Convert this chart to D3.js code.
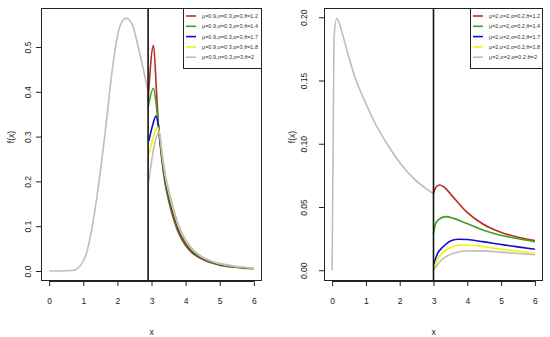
<!DOCTYPE html>
<html>
<head>
<meta charset="utf-8">
<script src="https://cdn.jsdelivr.net/npm/d3@7"></script>
<style>
  body { margin: 0; background: #fff; }
  svg { font-family: "Liberation Sans", Arial, sans-serif; }
</style>
</head>
<body>
<svg id="chart" width="550" height="337"></svg>
<script>
// ---- data ----
const xTicks = [0, 1, 2, 3, 4, 5, 6];
const colors = ['#b5301e', '#3c9e22', '#1010c8', '#f2f20a', '#bdbdbd'];

// left panel: mu=0.9, sigma=0.3, alpha=3
const leftTicks = [0, 0.1, 0.2, 0.3, 0.4, 0.5];
const leftThreshold = 2.9;
const leftLegend = ['μ=0.9,σ=0.3,α=3,θ=1.2', 'μ=0.9,σ=0.3,α=3,θ=1.4', 'μ=0.9,σ=0.3,α=3,θ=1.7', 'μ=0.9,σ=0.3,α=3,θ=1.8', 'μ=0.9,σ=0.3,α=3,θ=2'];
const leftBase = [[0, 0], [0.3, 0], [0.69, 0.001], [0.89, 0.01], [1.08, 0.036], [1.28, 0.107], [1.48, 0.21], [1.68, 0.335],
  [1.87, 0.461], [2.07, 0.545], [2.25, 0.564], [2.42, 0.553], [2.61, 0.5], [2.9, 0.40]];
const leftRed = [[2.9, 0.38], [3.06, 0.504], [3.14, 0.41], [3.2, 0.33], [3.3, 0.25], [3.4, 0.195], [3.5, 0.158], [3.6, 0.128],
  [3.7, 0.104], [3.8, 0.084], [4.0, 0.057], [4.2, 0.040], [4.5, 0.026], [5.0, 0.013], [5.5, 0.008], [6.0, 0.005]];
const leftGreen = [[2.9, 0.365], [3.06, 0.408], [3.14, 0.37], [3.2, 0.325], [3.3, 0.255], [3.4, 0.2], [3.5, 0.164], [3.6, 0.134],
  [3.7, 0.11], [3.8, 0.089], [4.0, 0.061], [4.2, 0.043], [4.5, 0.028], [5.0, 0.014], [5.5, 0.0085], [6.0, 0.0055]];
const leftBlue = [[2.92, 0.29], [3.05, 0.33], [3.13, 0.346], [3.2, 0.325], [3.3, 0.26], [3.4, 0.205], [3.5, 0.17], [3.6, 0.14],
  [3.7, 0.115], [3.8, 0.093], [4.0, 0.064], [4.2, 0.045], [4.5, 0.029], [5.0, 0.015], [5.5, 0.009], [6.0, 0.006]];
const leftYellow = [[2.92, 0.26], [3.08, 0.305], [3.18, 0.322], [3.25, 0.3], [3.3, 0.265], [3.4, 0.212], [3.5, 0.176], [3.6, 0.146],
  [3.7, 0.12], [3.8, 0.097], [4.0, 0.067], [4.2, 0.047], [4.5, 0.030], [5.0, 0.016], [5.5, 0.0095], [6.0, 0.0063]];
const leftGray = [[2.92, 0.2], [3.08, 0.28], [3.2, 0.308], [3.26, 0.298], [3.3, 0.27], [3.4, 0.218], [3.5, 0.182], [3.6, 0.152],
  [3.7, 0.125], [3.8, 0.101], [4.0, 0.070], [4.2, 0.049], [4.5, 0.031], [5.0, 0.017], [5.5, 0.010], [6.0, 0.0066]];

// right panel: mu=2, sigma=2, alpha=0.2
const rightTicks = [0, 0.05, 0.1, 0.15, 0.2];
const rightThreshold = 3.0;
const rightLegend = ['μ=2,σ=2,α=0.2,θ=1.2', 'μ=2,σ=2,α=0.2,θ=1.4', 'μ=2,σ=2,α=0.2,θ=1.7', 'μ=2,σ=2,α=0.2,θ=1.8', 'μ=2,σ=2,α=0.2,θ=2'];
const rightBase = [[0, 0], [0.055, 0.183], [0.14, 0.199], [0.28, 0.189], [0.48, 0.170], [0.67, 0.153], [0.97, 0.1335],
  [1.27, 0.1163], [1.67, 0.098], [2.05, 0.0834], [2.45, 0.0716], [3.0, 0.0605]];
const rightRed = [[3.0, 0.0605], [3.08, 0.066], [3.18, 0.0674], [3.3, 0.066], [3.57, 0.0582], [3.97, 0.0463], [4.46, 0.0366],
  [4.95, 0.0305], [5.44, 0.0265], [6.0, 0.0234]];
const rightGreen = [[3.0, 0.029], [3.05, 0.036], [3.15, 0.040], [3.37, 0.0424], [3.6, 0.041], [3.97, 0.0371], [4.46, 0.0318],
  [4.95, 0.0279], [5.44, 0.0253], [6.0, 0.0226]];
const rightBlue = [[3.0, 0.004], [3.1, 0.012], [3.3, 0.019], [3.5, 0.0232], [3.72, 0.0245], [4.0, 0.0243], [4.46, 0.0226],
  [4.95, 0.0205], [5.44, 0.0187], [6.0, 0.0166]];
const rightYellow = [[3.0, 0.001], [3.1, 0.0075], [3.3, 0.0145], [3.55, 0.0185], [3.8, 0.0200], [4.2, 0.0196], [4.95, 0.0168],
  [5.5, 0.0150], [6.0, 0.0136]];
const rightGray = [[3.0, 0.0], [3.1, 0.004], [3.3, 0.0095], [3.6, 0.0135], [4.0, 0.0152], [4.4, 0.0153], [5.0, 0.0143],
  [5.5, 0.0132], [6.0, 0.0122]];

const svg = d3.select('#chart');

function DrawPanel(cfg) {
  const { left, right, top, bottom } = cfg.box;

  let xScale = d3.scaleLinear().domain([-0.24, 6.24]).range([left, right]);
  let yScale = d3.scaleLinear().domain(cfg.yDomain).range([bottom, top]);

  let g = svg.append('g');

  g.append('clipPath').attr('id', cfg.id + '-clip')
    .append('rect')
    .attr('x', left).attr('y', top)
    .attr('width', right - left).attr('height', bottom - top);

  let line = d3.line()
    .x(d => xScale(d[0]))
    .y(d => yScale(d[1]))
    .curve(d3.curveMonotoneX);

  let plot = g.append('g').attr('clip-path', `url(#${cfg.id}-clip)`);

  // base density up to the threshold
  plot.append('path')
    .attr('d', line(cfg.base))
    .attr('fill', 'none')
    .attr('stroke', colors[4])
    .attr('stroke-width', 1.6);

  // the theta curves
  plot.selectAll('.theta')
    .data(cfg.series)
    .enter()
    .append('path')
    .attr('class', 'theta')
    .attr('d', d => line(d))
    .attr('fill', 'none')
    .attr('stroke', (d, i) => colors[i])
    .attr('stroke-width', 1.6);

  // threshold line
  g.append('line')
    .attr('x1', xScale(cfg.threshold)).attr('x2', xScale(cfg.threshold))
    .attr('y1', top).attr('y2', bottom)
    .attr('stroke', '#111')
    .attr('stroke-width', 1.6);

  // X Axis
  let xAxis = g.append('g')
    .attr('transform', `translate(0, ${bottom})`)
    .call(d3.axisBottom(xScale).tickValues(xTicks).tickSize(5).tickPadding(12).tickFormat(d3.format('d')));
  xAxis.select('.domain').attr('d', `M${xScale(0)},0.5H${xScale(6)}`).attr('stroke', '#222');
  xAxis.selectAll('.tick line').attr('stroke', '#222');
  xAxis.selectAll('text').attr('font-size', 8.5).attr('fill', '#222')
    .attr('font-family', '"Liberation Sans", Arial, sans-serif');

  // Y Axis
  let yAxis = g.append('g')
    .attr('transform', `translate(${left}, 0)`)
    .call(d3.axisLeft(yScale).tickValues(cfg.yTicks).tickSize(5).tickFormat(d3.format(cfg.yFormat)));
  yAxis.select('.domain').attr('d', `M0.5,${yScale(cfg.yTicks[0])}V${yScale(cfg.yTicks[cfg.yTicks.length - 1])}`).attr('stroke', '#222');
  yAxis.selectAll('.tick line').attr('stroke', '#222');
  yAxis.selectAll('text')
    .attr('font-size', 8.5).attr('fill', '#222')
    .attr('font-family', '"Liberation Sans", Arial, sans-serif')
    .attr('x', null).attr('dy', null)
    .attr('text-anchor', 'middle')
    .attr('transform', `translate(${-cfg.labelOffset}, 0) rotate(-90)`);

  // box
  g.append('rect')
    .attr('x', left + 0.5).attr('y', top + 0.5)
    .attr('width', right - left - 1).attr('height', bottom - top - 1)
    .attr('fill', 'none').attr('stroke', '#222');

  // axis titles
  g.append('text')
    .text('x')
    .attr('x', (left + right) / 2).attr('y', 335)
    .attr('text-anchor', 'middle')
    .attr('font-size', 8.5).attr('fill', '#222');

  g.append('text')
    .text('f(x)')
    .attr('text-anchor', 'middle')
    .attr('font-size', 8.5).attr('fill', '#222')
    .attr('transform', `translate(${left - cfg.titleOffset}, 137) rotate(-90)`);

  // legend (top right)
  const legW = cfg.legendWidth, rowH = 10.3;
  let leg = g.append('g').attr('transform', `translate(${right - legW}, ${top})`);
  leg.append('rect')
    .attr('x', 0.5).attr('y', 0.5)
    .attr('width', legW - 1).attr('height', 60)
    .attr('fill', '#fff').attr('stroke', '#222');

  let rows = leg.selectAll('.row')
    .data(cfg.legend)
    .enter()
    .append('g')
    .attr('transform', (d, i) => `translate(0, ${8 + i * rowH})`);

  rows.append('line')
    .attr('x1', 3).attr('x2', 13)
    .attr('stroke', (d, i) => colors[i])
    .attr('stroke-width', 1.6);

  rows.append('text')
    .text(d => d)
    .attr('x', 19).attr('y', 2)
    .attr('font-size', 5.6).attr('fill', '#333')
    .attr('textLength', (d, i) => cfg.textLen[i])
    .attr('lengthAdjust', 'spacingAndGlyphs');
}

DrawPanel({
  id: 'left',
  box: { left: 41, right: 262, top: 8, bottom: 281 },
  yDomain: [-0.0223, 0.587],
  yTicks: leftTicks,
  yFormat: '.1f',
  labelOffset: 10,
  titleOffset: 27,
  threshold: leftThreshold,
  base: leftBase,
  series: [leftRed, leftGreen, leftBlue, leftYellow, leftGray],
  legend: leftLegend,
  legendWidth: 79,
  textLen: [56, 56, 56, 56, 52]
});

DrawPanel({
  id: 'right',
  box: { left: 324, right: 543, top: 8, bottom: 281 },
  yDomain: [-0.0085, 0.2073],
  yTicks: rightTicks,
  yFormat: '.2f',
  labelOffset: 17,
  titleOffset: 29,
  threshold: rightThreshold,
  base: rightBase,
  series: [rightRed, rightGreen, rightBlue, rightYellow, rightGray],
  legend: rightLegend,
  legendWidth: 73,
  textLen: [51, 51, 51, 51, 48]
});
</script>
</body>
</html>
